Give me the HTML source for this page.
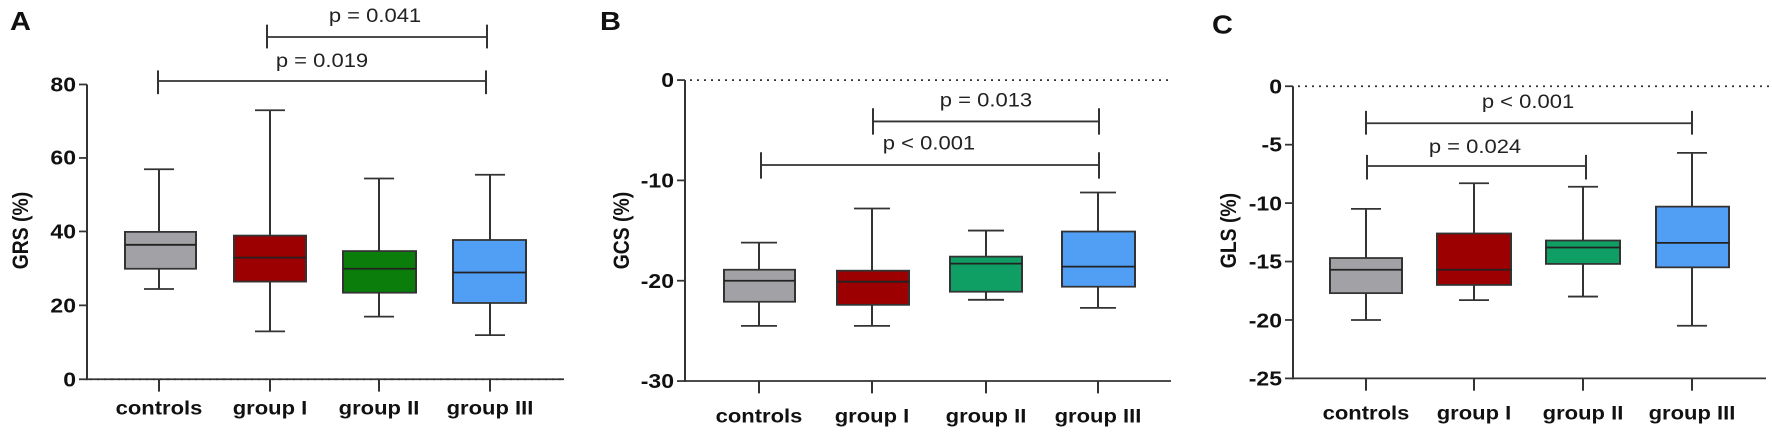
<!DOCTYPE html>
<html><head><meta charset="utf-8"><style>body{margin:0;background:#fff;overflow:hidden}svg{display:block}</style></head><body>
<svg width="1772" height="438" viewBox="0 0 1772 438" xmlns="http://www.w3.org/2000/svg" font-family="Liberation Sans, Arial, sans-serif">
<g transform="scale(1,0.88)">
<g stroke="#333" stroke-width="2" fill="none">
<!-- Panel A -->
<line x1="87" y1="96" x2="87" y2="432"/>
<line x1="86" y1="431" x2="564" y2="431"/>
<line x1="79" y1="96" x2="87" y2="96"/><line x1="79" y1="179.5" x2="87" y2="179.5"/><line x1="79" y1="263" x2="87" y2="263"/><line x1="79" y1="347" x2="87" y2="347"/><line x1="79" y1="431" x2="87" y2="431"/>
<line x1="159" y1="431" x2="159" y2="445"/><line x1="270" y1="431" x2="270" y2="445"/><line x1="379" y1="431" x2="379" y2="445"/><line x1="490" y1="431" x2="490" y2="445"/>
<line x1="267" y1="42" x2="487" y2="42"/><line x1="267" y1="28" x2="267" y2="55"/><line x1="487" y1="28" x2="487" y2="55"/>
<line x1="158" y1="92" x2="486" y2="92"/><line x1="158" y1="80" x2="158" y2="107"/><line x1="486" y1="80" x2="486" y2="107"/>
<path d="M159 192.3V328.4M144 192.3H174M144 328.4H174"/>
<path d="M270 125.3V376.6M255 125.3H285M255 376.6H285"/>
<path d="M379 202.8V359.8M364 202.8H394M364 359.8H394"/>
<path d="M490 198.6V380.8M475 198.6H505M475 380.8H505"/>
<rect x="125" y="263.5" width="71" height="41.9" fill="#a2a2a6"/>
<rect x="234" y="267.7" width="72" height="52.3" fill="#9c0000"/>
<rect x="343" y="285.3" width="73" height="47.3" fill="#0b7d0b"/>
<rect x="453" y="272.7" width="73" height="71.6" fill="#519ef5"/>
<path d="M125 278.2H196M234 292.8H306M343 305.4H416M453 309.6H526" stroke="#222"/>

<!-- Panel B -->
<line x1="685" y1="91" x2="685" y2="434"/>
<line x1="684" y1="433" x2="1171" y2="433"/>
<line x1="677" y1="91" x2="685" y2="91"/><line x1="677" y1="205" x2="685" y2="205"/><line x1="677" y1="319" x2="685" y2="319"/><line x1="677" y1="433" x2="685" y2="433"/>
<line x1="759" y1="433" x2="759" y2="447"/><line x1="872" y1="433" x2="872" y2="447"/><line x1="986" y1="433" x2="986" y2="447"/><line x1="1098" y1="433" x2="1098" y2="447"/>
<line x1="873" y1="138" x2="1099" y2="138"/><line x1="873" y1="123" x2="873" y2="153"/><line x1="1099" y1="123" x2="1099" y2="153"/>
<line x1="761" y1="187.5" x2="1099" y2="187.5"/><line x1="761" y1="173" x2="761" y2="203"/><line x1="1099" y1="173" x2="1099" y2="203"/>
<path d="M759 275.7V370.3M741 275.7H777M741 370.3H777"/>
<path d="M872 236.9V370.3M854 236.9H890M854 370.3H890"/>
<path d="M986 262V340.7M968 262H1004M968 340.7H1004"/>
<path d="M1098 218.7V349.8M1080 218.7H1116M1080 349.8H1116"/>
<rect x="724" y="306.5" width="71" height="36.4" fill="#a2a2a6"/>
<rect x="837" y="307.6" width="72" height="38.8" fill="#9c0000"/>
<rect x="950" y="291.6" width="72" height="39.9" fill="#0f9e63"/>
<rect x="1062" y="263.1" width="73" height="62.7" fill="#519ef5"/>
<path d="M724 319H795M837 320.1H909M950 299.6H1022M1062 303H1135" stroke="#222"/>

<!-- Panel C -->
<line x1="1293" y1="98" x2="1293" y2="431"/>
<line x1="1292" y1="430" x2="1766" y2="430"/>
<line x1="1285" y1="98" x2="1293" y2="98"/><line x1="1285" y1="164.4" x2="1293" y2="164.4"/><line x1="1285" y1="230.8" x2="1293" y2="230.8"/><line x1="1285" y1="297.2" x2="1293" y2="297.2"/><line x1="1285" y1="363.6" x2="1293" y2="363.6"/><line x1="1285" y1="430" x2="1293" y2="430"/>
<line x1="1366" y1="430" x2="1366" y2="444"/><line x1="1474" y1="430" x2="1474" y2="444"/><line x1="1583" y1="430" x2="1583" y2="444"/><line x1="1692" y1="430" x2="1692" y2="444"/>
<line x1="1366" y1="140" x2="1692" y2="140"/><line x1="1366" y1="126" x2="1366" y2="153"/><line x1="1692" y1="126" x2="1692" y2="153"/>
<line x1="1367" y1="188.6" x2="1586" y2="188.6"/><line x1="1367" y1="176" x2="1367" y2="204"/><line x1="1586" y1="176" x2="1586" y2="204"/>
<path d="M1366 237.4V363.6M1351 237.4H1381M1351 363.6H1381"/>
<path d="M1474 208.2V341M1459 208.2H1489M1459 341H1489"/>
<path d="M1583 212.2V337M1568 212.2H1598M1568 337H1598"/>
<path d="M1692 173.7V370.2M1677 173.7H1707M1677 370.2H1707"/>
<rect x="1330" y="293.2" width="72" height="39.9" fill="#a2a2a6"/>
<rect x="1437" y="265.3" width="74" height="58.5" fill="#9c0000"/>
<rect x="1546" y="273.3" width="74" height="26.6" fill="#0f9e63"/>
<rect x="1656" y="234.8" width="73" height="69" fill="#519ef5"/>
<path d="M1330 306.5H1402M1437 306.5H1511M1546 281.3H1620M1656 276H1729" stroke="#222"/>
</g>
<g stroke="#333" stroke-width="2" stroke-dasharray="2 5">
<line x1="90" y1="431" x2="564" y2="431"/>
<line x1="690" y1="91" x2="1171" y2="91"/>
<line x1="1298" y1="98" x2="1770" y2="98"/>
</g>
<g fill="#111" font-weight="bold">
<text x="10" y="34" font-size="29">A</text>
<text x="600" y="34" font-size="29">B</text>
<text x="1212" y="38" font-size="29">C</text>
<g font-size="23" text-anchor="end">
<text x="76" y="104">80</text><text x="76" y="187">60</text><text x="76" y="271">40</text><text x="76" y="355">20</text><text x="76" y="439">0</text>
<text x="674" y="99">0</text><text x="674" y="213">-10</text><text x="674" y="327">-20</text><text x="674" y="441">-30</text>
<text x="1282" y="106">0</text><text x="1282" y="172">-5</text><text x="1282" y="239">-10</text><text x="1282" y="305">-15</text><text x="1282" y="372">-20</text><text x="1282" y="438">-25</text>
</g>
<g font-size="22" text-anchor="middle">
<text x="159" y="471">controls</text><text x="270" y="471">group I</text><text x="379" y="471">group II</text><text x="490" y="471">group III</text>
<text x="759" y="480">controls</text><text x="872" y="480">group I</text><text x="986" y="480">group II</text><text x="1098" y="480">group III</text>
<text x="1366" y="477">controls</text><text x="1474" y="477">group I</text><text x="1583" y="477">group II</text><text x="1692" y="477">group III</text>
</g>
<g font-size="22" text-anchor="middle">
<text transform="translate(28,262) rotate(-90)">GRS (%)</text>
<text transform="translate(629,262) rotate(-90)">GCS (%)</text>
<text transform="translate(1236,262) rotate(-90)">GLS (%)</text>
</g>
</g>
<g fill="#222" font-size="22" text-anchor="middle">
<text x="375" y="25">p = 0.041</text>
<text x="322" y="76">p = 0.019</text>
<text x="986" y="121">p = 0.013</text>
<text x="929" y="170">p &lt; 0.001</text>
<text x="1528" y="123">p &lt; 0.001</text>
<text x="1475" y="174">p = 0.024</text>
</g>
</g>
</svg>
</body></html>
